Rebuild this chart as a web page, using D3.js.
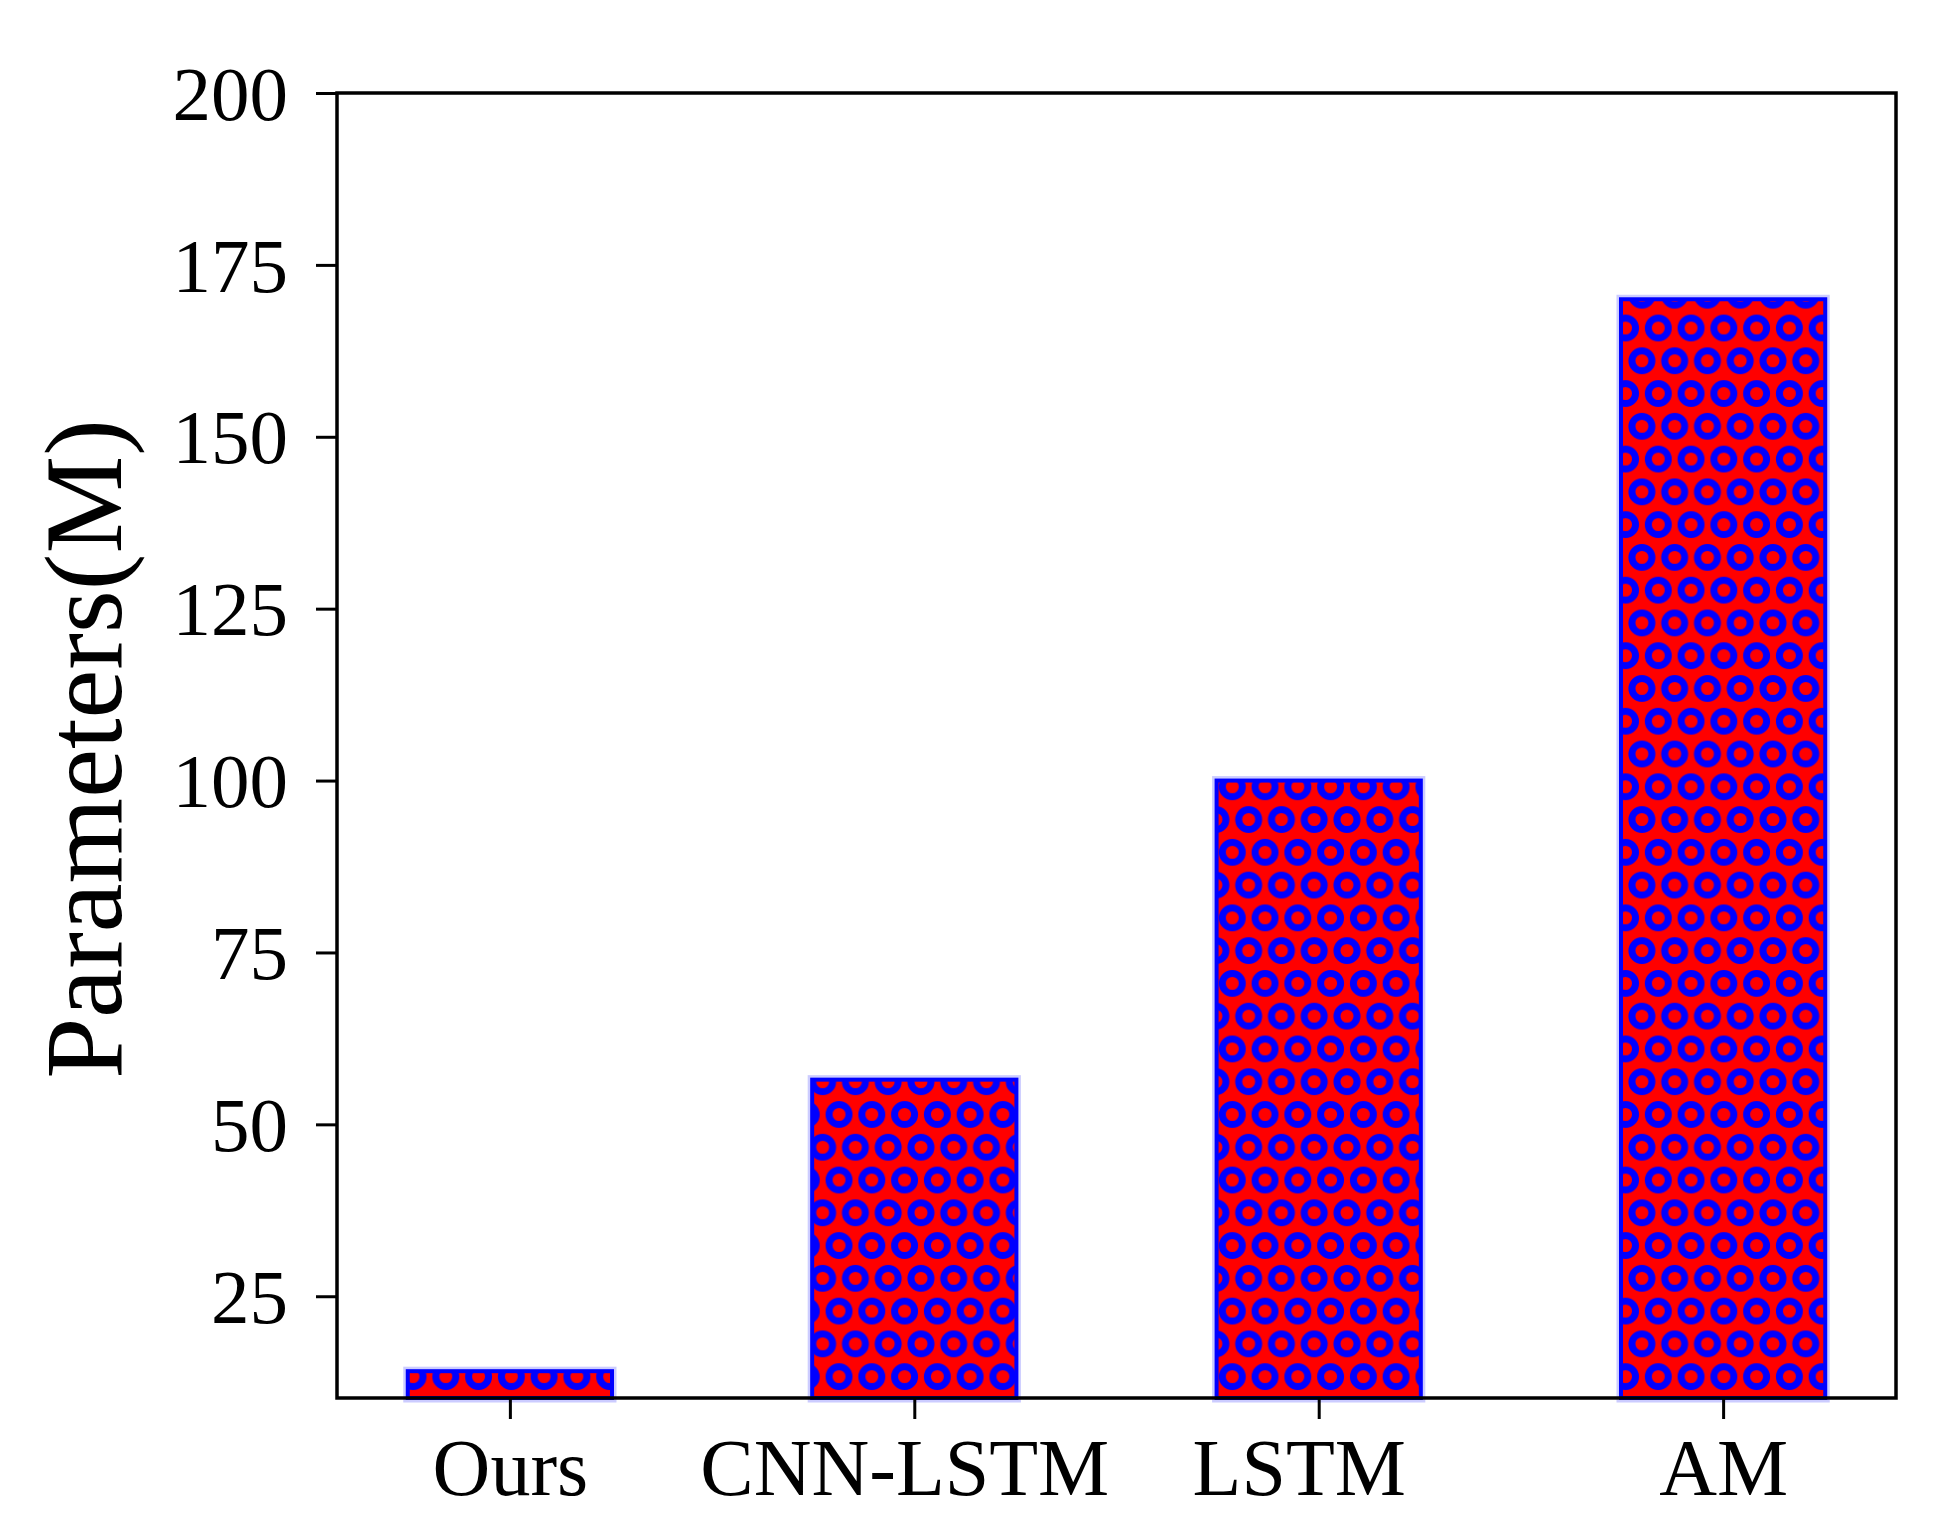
<!DOCTYPE html>
<html>
<head>
<meta charset="utf-8">
<script src="https://cdn.jsdelivr.net/npm/d3@7"></script>
<style>
  body { margin: 0; background: #fff; }
  text { font-family: "Liberation Serif", "Times New Roman", serif; fill: #000; white-space: pre; }
</style>
</head>
<body>
<svg width="1942" height="1522"></svg>
<script>
var models = ["Ours", "CNN-LSTM", "LSTM", "AM"];
// labels as written in the original figure (trailing blanks pull two of them left)
var xTickLabels = ["Ours", "CNN-LSTM ", "LSTM  ", "AM"];
var params = [14.1, 56.5, 100, 170];
var yTicks = [25, 50, 75, 100, 125, 150, 175, 200];
var yLabel = "Parameters(M)";

var svg = d3.select("svg");
var margin = {left: 337, right: 46, top: 93, bottom: 124};
var width = +svg.attr("width");
var height = +svg.attr("height");

svg.append("rect")
    .attr("width", width)
    .attr("height", height)
    .attr("fill", "#fff");

var x = d3.scalePoint()
    .domain(models)
    .range([margin.left, width - margin.right])
    .padding(0.4275);

var y = d3.scaleLinear()
    .domain([10.2, 200])
    .range([height - margin.bottom, margin.top]);

var barW = x.step() * 0.505;

// circle hatch, like matplotlib 'o' hatch on red face
var s = 32.77;
var pat = svg.append("defs").append("pattern")
    .attr("id", "rings")
    .attr("patternUnits", "userSpaceOnUse")
    .attr("x", 1658.3 - s / 2)
    .attr("y", 328 - s / 2)
    .attr("width", s)
    .attr("height", 2 * s);

pat.append("rect")
    .attr("width", s)
    .attr("height", 2 * s)
    .attr("fill", "#ff0000");

[[s / 2, s / 2], [0, 1.5 * s], [s, 1.5 * s]].forEach(function(c) {
    pat.append("circle")
        .attr("cx", c[0])
        .attr("cy", c[1])
        .attr("r", 10)
        .attr("fill", "none")
        .attr("stroke", "#0000ff")
        .attr("stroke-width", 7);
});

var data = models.map(function(m, i) { return {name: m, value: params[i]}; });

// soft halo around bars
svg.selectAll(".halo")
    .data(data)
    .enter().append("rect")
    .attr("class", "halo")
    .attr("x", function(d) { return x(d.name) - barW / 2; })
    .attr("y", function(d) { return y(d.value); })
    .attr("width", barW)
    .attr("height", function(d) { return y.range()[0] - y(d.value); })
    .attr("fill", "none")
    .attr("stroke", "#ccccff")
    .attr("stroke-width", 9);

svg.selectAll(".bar")
    .data(data)
    .enter().append("rect")
    .attr("class", "bar")
    .attr("x", function(d) { return x(d.name) - barW / 2; })
    .attr("y", function(d) { return y(d.value); })
    .attr("width", barW)
    .attr("height", function(d) { return y.range()[0] - y(d.value); })
    .attr("fill", "url(#rings)")
    .attr("stroke", "#0000ff")
    .attr("stroke-width", 4);

// frame
svg.append("rect")
    .attr("x", margin.left)
    .attr("y", margin.top)
    .attr("width", width - margin.left - margin.right)
    .attr("height", height - margin.top - margin.bottom)
    .attr("fill", "none")
    .attr("stroke", "#000")
    .attr("stroke-width", 3.5);

var xAxis = svg.append("g")
    .attr("transform", "translate(0," + y.range()[0] + ")")
    .call(d3.axisBottom(x).tickSize(21).tickPadding(0)
        .tickFormat(function(d, i) { return xTickLabels[i]; }));
xAxis.select(".domain").remove();
xAxis.selectAll(".tick line").attr("stroke", "#000").attr("stroke-width", 3);
xAxis.selectAll(".tick text")
    .attr("y", 97)
    .attr("dy", null)
    .style("font-size", "80px");

var yAxis = svg.append("g")
    .attr("transform", "translate(" + margin.left + ",0)")
    .call(d3.axisLeft(y).tickValues(yTicks).tickSize(21).tickPadding(28));
yAxis.select(".domain").remove();
yAxis.selectAll(".tick line").attr("stroke", "#000").attr("stroke-width", 3);
yAxis.selectAll(".tick text")
    .attr("dy", "0.34em")
    .style("font-size", "77px");

svg.selectAll(".tick text").attr("fill", "#000").style("font-family", "'Liberation Serif', 'Times New Roman', serif");

svg.append("text")
    .attr("transform", "translate(121,749) rotate(-90)")
    .attr("text-anchor", "middle")
    .style("font-size", "110px")
    .text(yLabel);
</script>
</body>
</html>
